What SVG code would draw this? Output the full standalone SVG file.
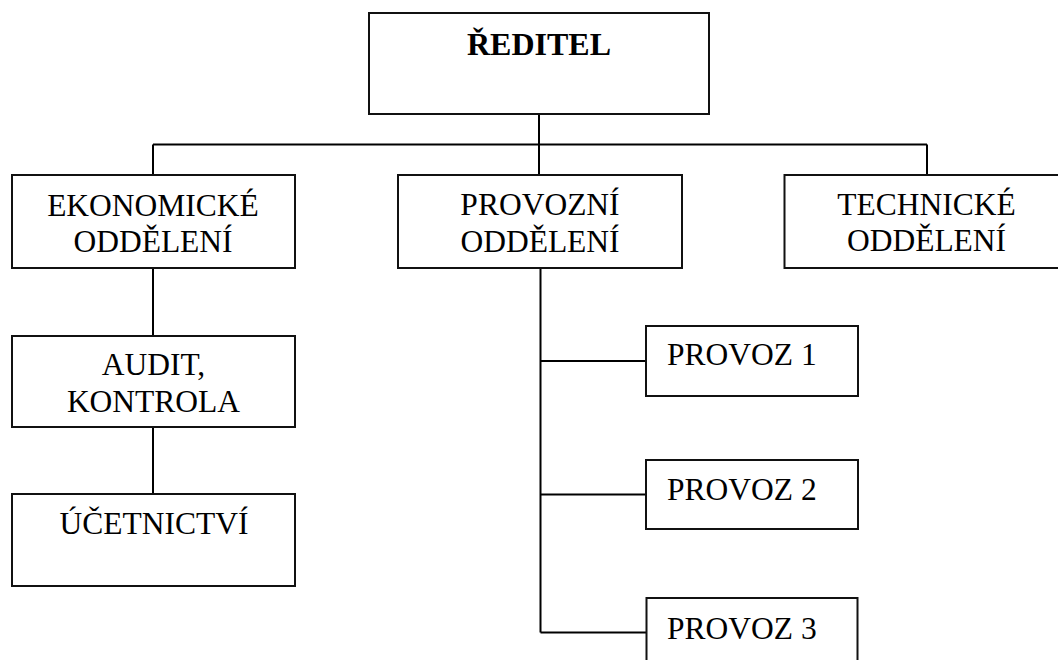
<svg xmlns="http://www.w3.org/2000/svg" width="1058" height="660" viewBox="0 0 1058 660">
<style>
.box{fill:#fff;stroke:#111;stroke-width:2}
.ln{stroke:#000;stroke-width:2;fill:none}
text{font-family:"Liberation Serif","Times New Roman",serif;font-size:31.5px;fill:#000}
.c{text-anchor:middle}
.b{font-weight:bold;font-size:32px}
</style>
<rect width="1058" height="660" fill="#fff"/>
<g id="connectors">
<path class="ln" d="M539,114 V175 M153,144.5 H927 M153,144.5 V175 M927,144.5 V175"/>
<path class="ln" d="M153,268 V336 M153,427 V494"/>
<path class="ln" d="M540.5,268 V632.5 M540.5,361 H646 M540.5,494.5 H646 M540.5,632.5 H646"/>
</g>
<g id="reditel"><rect class="box" x="369" y="13" width="340" height="101"/><text class="c b" x="539" y="55">ŘEDITEL</text></g>
<g id="ekonomicke"><rect class="box" x="12" y="175" width="283" height="93"/><text class="c" x="153" y="216">EKONOMICKÉ</text><text class="c" x="153" y="251.5">ODDĚLENÍ</text></g>
<g id="provozni"><rect class="box" x="398" y="175" width="284" height="93"/><text class="c" x="540" y="214.5">PROVOZNÍ</text><text class="c" x="540" y="251.5">ODDĚLENÍ</text></g>
<g id="technicke"><rect class="box" x="784.5" y="175" width="284" height="93"/><text class="c" x="926.5" y="214.5">TECHNICKÉ</text><text class="c" x="926.5" y="251">ODDĚLENÍ</text></g>
<g id="audit"><rect class="box" x="12" y="336" width="283" height="91"/><text class="c" x="153.5" y="375">AUDIT,</text><text class="c" x="153.5" y="411.5">KONTROLA</text></g>
<g id="ucetnictvi"><rect class="box" x="12" y="494" width="283" height="92"/><text class="c" x="154" y="533.5">ÚČETNICTVÍ</text></g>
<g id="provoz1"><rect class="box" x="646" y="326" width="212" height="70"/><text x="667" y="365">PROVOZ 1</text></g>
<g id="provoz2"><rect class="box" x="646" y="460" width="212" height="69"/><text x="667" y="500">PROVOZ 2</text></g>
<g id="provoz3"><rect class="box" x="646.5" y="598" width="211" height="70"/><text x="667" y="638.5">PROVOZ 3</text></g>
</svg>
